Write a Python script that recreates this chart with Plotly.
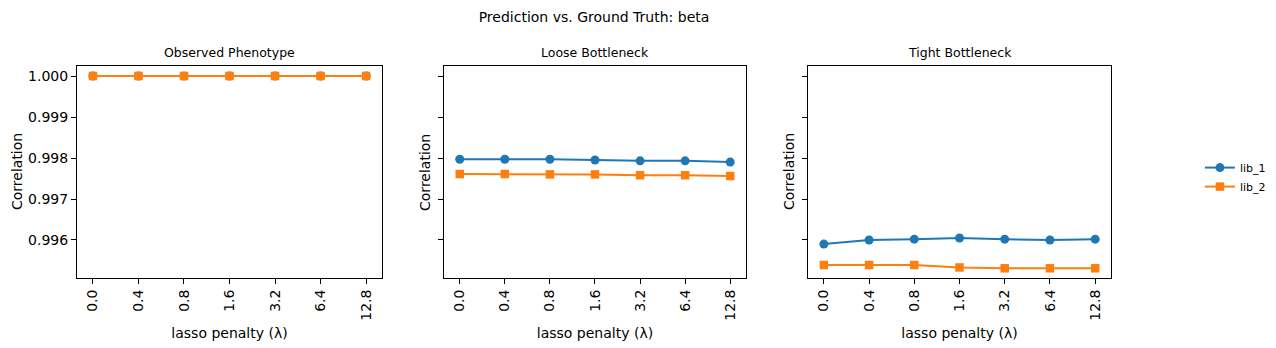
import plotly.graph_objects as go
from plotly.subplots import make_subplots

penalties = ["0.0", "0.4", "0.8", "1.6", "3.2", "6.4", "12.8"]
panel_titles = ["Observed Phenotype", "Loose Bottleneck", "Tight Bottleneck"]

observed_lib_1 = [1.00000, 1.00000, 1.00000, 1.00000, 1.00000, 1.00000, 1.00000]
observed_lib_2 = [1.00000, 1.00000, 1.00000, 1.00000, 1.00000, 1.00000, 1.00000]
loose_lib_1 = [0.99797, 0.99797, 0.99797, 0.99795, 0.99793, 0.99793, 0.99790]
loose_lib_2 = [0.99761, 0.99761, 0.99760, 0.99760, 0.99758, 0.99758, 0.99756]
tight_lib_1 = [0.99590, 0.99600, 0.99602, 0.99605, 0.99602, 0.99600, 0.99602]
tight_lib_2 = [0.99539, 0.99539, 0.99539, 0.99533, 0.99531, 0.99531, 0.99531]

y_ticks = [0.996, 0.997, 0.998, 0.999, 1.000]

series = [
    (observed_lib_1, observed_lib_2),
    (loose_lib_1, loose_lib_2),
    (tight_lib_1, tight_lib_2),
]

BLUE = "#1f77b4"
ORANGE = "#ff7f0e"
FONT = "DejaVu Sans"

fig = make_subplots(rows=1, cols=3, shared_yaxes=False, horizontal_spacing=0.0)

for i, (s1, s2) in enumerate(series):
    col = i + 1
    fig.add_trace(go.Scatter(
        x=penalties, y=s1, name="lib_1", legendgroup="lib_1", showlegend=(i == 0),
        mode="lines+markers", line=dict(color=BLUE, width=2),
        marker=dict(symbol="circle", size=9, color=BLUE),
    ), row=1, col=col)
    fig.add_trace(go.Scatter(
        x=penalties, y=s2, name="lib_2", legendgroup="lib_2", showlegend=(i == 0),
        mode="lines+markers", line=dict(color=ORANGE, width=2),
        marker=dict(symbol="square", size=8.5, color=ORANGE),
    ), row=1, col=col)

domains = [[0.0, 0.295], [0.3549, 0.647], [0.707, 1.0]]
axis_common = dict(
    showline=True, linecolor="black", linewidth=1, mirror=True,
    ticks="outside", ticklen=5, tickwidth=1, tickcolor="black",
    showgrid=False, zeroline=False, automargin=False,
    tickfont=dict(family=FONT, size=14, color="black"),
)
annotations = []
for i in range(3):
    xa = "xaxis" if i == 0 else f"xaxis{i+1}"
    ya = "yaxis" if i == 0 else f"yaxis{i+1}"
    fig.layout[xa].update(
        domain=domains[i], type="category", range=[-0.35, 6.35], tickangle=-90,
        title=dict(text="lasso penalty (λ)", font=dict(family=FONT, size=14, color="black"), standoff=8),
        **axis_common,
    )
    yupd = dict(range=[0.995073, 1.000244], tickvals=y_ticks, ticktext=[f"{v:.3f}" for v in y_ticks],
                showticklabels=(i == 0), **axis_common)
    if i > 0:
        yupd["matches"] = "y"
    fig.layout[ya].update(**yupd)
    xref = "x domain" if i == 0 else f"x{i+1} domain"
    yref = "y domain" if i == 0 else f"y{i+1} domain"
    annotations.append(dict(
        text=panel_titles[i], xref=xref, yref=yref, x=0.5, y=1.0, xanchor="center", yanchor="bottom",
        yshift=4, showarrow=False, font=dict(family=FONT, size=12.5, color="black"),
    ))
    annotations.append(dict(
        text="Correlation", xref=xref, yref=yref, x=0.0, y=0.5, xanchor="center", yanchor="middle",
        xshift=(-60 if i == 0 else -19), textangle=-90, showarrow=False,
        font=dict(family=FONT, size=14, color="black"),
    ))

fig.update_layout(
    width=1276, height=348,
    margin=dict(l=77, r=165, t=66, b=70, autoexpand=False),
    paper_bgcolor="white", plot_bgcolor="white",
    title=dict(text="Prediction vs. Ground Truth: beta", x=0.5, xref="paper", xanchor="center",
               y=1 - 17 / 348, yanchor="middle", yref="container",
               font=dict(family=FONT, size=14, color="black")),
    annotations=annotations,
    legend=dict(x=1.086, y=0.476, xanchor="left", yanchor="middle",
                font=dict(family=FONT, size=11, color="black"),
                bgcolor="rgba(0,0,0,0)", itemwidth=30, tracegroupgap=0),
    showlegend=True,
)

fig.write_html("out.html")
